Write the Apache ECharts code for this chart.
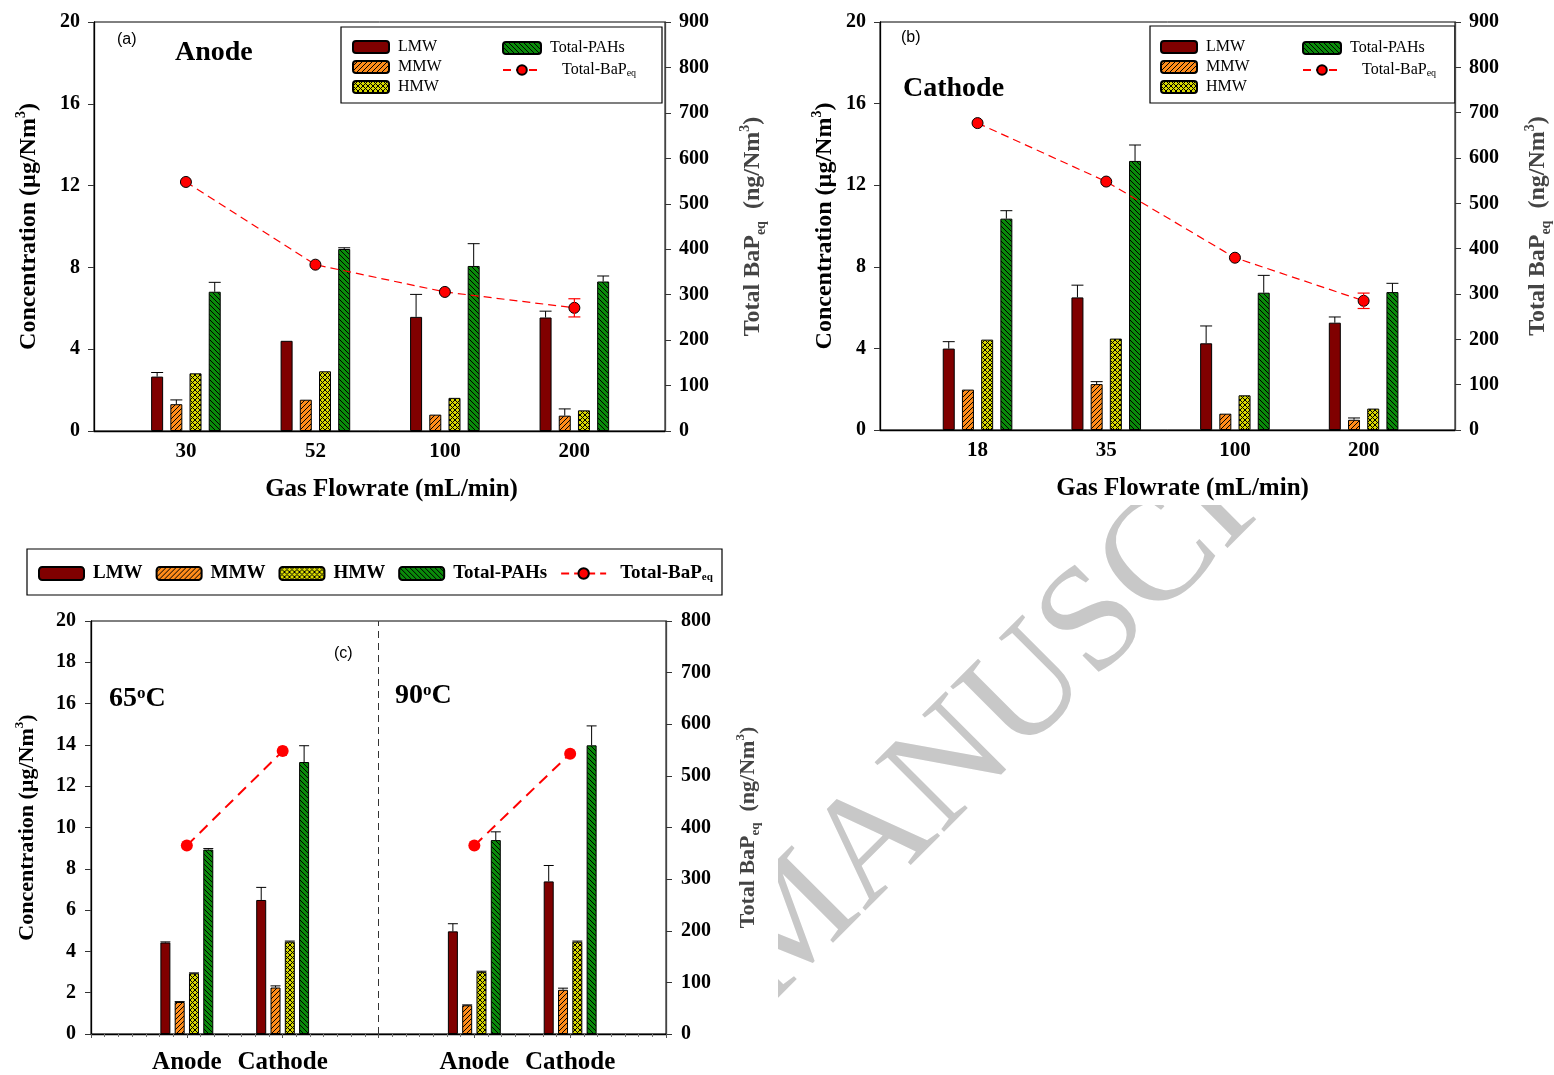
<!DOCTYPE html>
<html><head><meta charset="utf-8">
<script src="https://cdn.jsdelivr.net/npm/echarts@6/dist/echarts.min.js"></script>
<style>html,body{margin:0;padding:0;background:#fff}#c{width:1554px;height:1075px}</style>
</head><body><div id="c"></div>
<script>
// ---------------- DATA ----------------
const flowA = ['30', '52', '100', '200'];
const flowB = ['18', '35', '100', '200'];
const condC = ['Anode', 'Cathode', 'Anode', 'Cathode'];
const tempC = ['65', '90'];

const lmwA = [2.66, 4.41, 5.58, 5.55];   const lmwAErr = [0.20, 0, 1.10, 0.31];
const mmwA = [1.31, 1.53, 0.80, 0.75];   const mmwAErr = [0.21, 0, 0, 0.33];
const hmwA = [2.82, 2.92, 1.62, 1.01];   const hmwAErr = [0, 0, 0, 0];
const totA = [6.81, 8.90, 8.07, 7.31];   const totAErr = [0.46, 0.06, 1.09, 0.27];
const bapA = [548, 366, 306, 271];       const bapAErr = [0, 0, 0, 20];

const lmwB = [3.99, 6.50, 4.25, 5.26];   const lmwBErr = [0.34, 0.60, 0.85, 0.28];
const mmwB = [1.98, 2.25, 0.80, 0.50];   const mmwBErr = [0, 0.12, 0, 0.09];
const hmwB = [4.43, 4.48, 1.70, 1.05];   const hmwBErr = [0, 0, 0, 0];
const totB = [10.36, 13.19, 6.73, 6.76]; const totBErr = [0.39, 0.78, 0.85, 0.43];
const bapB = [677, 548, 380, 285];       const bapBErr = [0, 0, 0, 17];

const lmwC = [4.43, 6.49, 4.97, 7.39];   const lmwCErr = [0.03, 0.61, 0.37, 0.77];
const mmwC = [1.55, 2.25, 1.39, 2.14];   const mmwCErr = [0.02, 0.08, 0.02, 0.08];
const hmwC = [2.94, 4.47, 3.01, 4.47];   const hmwCErr = [0.02, 0.03, 0.03, 0.03];
const totC = [8.93, 13.17, 9.39, 13.98]; const totCErr = [0.05, 0.79, 0.40, 0.94];
const bapC = [365, 548, 365, 543];       const bapCErr = [0, 8, 0, 0];

// ---------------- LAYOUT / STYLE ----------------
const SERIF = '"Liberation Serif","Times New Roman",serif';
const SANS = '"Liberation Sans",Arial,sans-serif';
const posA = [1, 2, 3, 4];
const posB = [1, 2, 3, 4];
const posC = [1, 2, 4, 5];   // group positions on panel (c) value axis
const dividerC = 3;

function pat(bg, kind, size) {
  const c = document.createElement('canvas');
  c.width = c.height = size;
  const g = c.getContext('2d');
  g.fillStyle = bg; g.fillRect(0, 0, size, size);
  g.strokeStyle = '#000'; g.lineWidth = 1;
  const fwd = () => { g.beginPath(); for (let k = -1; k <= 1; k++) { g.moveTo(k * size, size); g.lineTo(k * size + size, 0); } g.stroke(); };
  const back = () => { g.beginPath(); for (let k = -1; k <= 1; k++) { g.moveTo(k * size, 0); g.lineTo(k * size + size, size); } g.stroke(); };
  if (kind === 'fwd') fwd();
  if (kind === 'back') back();
  if (kind === 'cross') { fwd(); back(); }
  return { image: c, repeat: 'repeat' };
}
const FILL = {
  LMW: '#800000',
  MMW: pat('#ff8c1a', 'fwd', 5),
  HMW: pat('#d8d800', 'cross', 5),
  TOT: pat('#0a8a0a', 'back', 5)
};

const richName = (fs) => ({
  n: { fontFamily: SERIF, fontWeight: 'bold', fontSize: fs, lineHeight: fs + 6, verticalAlign: 'middle' },
  sup: { fontFamily: SERIF, fontWeight: 'bold', fontSize: Math.round(fs * 0.6), lineHeight: 12, verticalAlign: 'top' },
  sub: { fontFamily: SERIF, fontWeight: 'bold', fontSize: Math.round(fs * 0.6), lineHeight: 12, verticalAlign: 'bottom' }
});
const concName = '{n|Concentration (µg/Nm}{sup|3}{n|)}';
const bapName = '{n|Total BaP}{sub|eq}{n|  (ng/Nm}{sup|3}{n|)}';

function yAxis(grid, side, max, interval, name, gap, fs, margin) {
  return {
    type: 'value', gridIndex: grid, position: side, min: 0, max: max, interval: interval,
    axisLine: { show: true, lineStyle: { color: side === 'left' ? '#000' : '#444', width: 1.3 } },
    axisTick: { show: true, inside: false, length: 6, lineStyle: { color: '#333' } },
    splitLine: { show: false },
    axisLabel: { fontFamily: SERIF, fontWeight: 'bold', fontSize: 20, color: '#000', margin: margin },
    name: name, nameLocation: 'middle', nameGap: gap,
    nameTextStyle: { rich: richName(fs) }
  };
}
function xAxis(grid, min, max, pos, labels, lfs, margin, name, gap, shift, ticks) {
  return {
    type: 'value', gridIndex: grid, min: min, max: max, interval: ticks ? 1 : null,
    axisLine: { show: true, lineStyle: { color: '#000', width: 1.3 } },
    axisTick: ticks ? { show: true, length: 4, lineStyle: { color: '#555' } } : { show: false },
    minorTick: ticks ? { show: true, splitNumber: 7, length: 3, lineStyle: { color: '#777' } } : { show: false },
    splitLine: { show: false },
    axisLabel: {
      customValues: pos, formatter: v => labels[pos.indexOf(v)] || '',
      fontFamily: SERIF, fontWeight: 'bold', fontSize: lfs, color: '#000', margin: margin
    },
    name: name, nameLocation: 'middle', nameGap: gap,
    nameTextStyle: { fontFamily: SERIF, fontWeight: 'bold', fontSize: 25, color: '#000', padding: [0, 0, 0, shift || 0] }
  };
}

function bar(name, vals, pos, xi, yi, fill, bw, gap) {
  return {
    type: 'bar', name: name, xAxisIndex: xi, yAxisIndex: yi, barWidth: bw, barGap: gap,
    data: vals.map((v, i) => [pos[i], v]),
    itemStyle: { color: fill, borderColor: '#000', borderWidth: 1 }, z: 2
  };
}
function errBars(groups, pos, xi, yi, bw, gapFrac) {
  const data = [];
  groups.forEach((gr, k) => gr[0].forEach((v, i) => data.push([pos[i], v, gr[1][i], k])));
  const step = bw * (1 + gapFrac);
  return {
    type: 'custom', xAxisIndex: xi, yAxisIndex: yi, z: 3, silent: true,
    data: data,
    renderItem: function (params, api) {
      const x = api.value(0), v = api.value(1), e = api.value(2), k = api.value(3);
      if (!(e > 0)) return null;
      const off = (k - 1.5) * step;
      const p0 = api.coord([x, v]), p1 = api.coord([x, v + e]);
      const cx = p0[0] + off;
      return { type: 'group', children: [
        { type: 'line', shape: { x1: cx, y1: p0[1], x2: cx, y2: p1[1] }, style: { stroke: '#000', lineWidth: 1 } },
        { type: 'line', shape: { x1: cx - bw / 2, y1: p1[1], x2: cx + bw / 2, y2: p1[1] }, style: { stroke: '#000', lineWidth: 1 } }
      ]};
    }
  };
}
function bapErr(vals, errs, pos, xi, yi, cap) {
  return {
    type: 'custom', xAxisIndex: xi, yAxisIndex: yi, z: 6, silent: true,
    data: vals.map((v, i) => [pos[i], v, errs[i]]),
    renderItem: function (params, api) {
      const x = api.value(0), v = api.value(1), e = api.value(2);
      if (!(e > 0)) return null;
      const a = api.coord([x, v + e]), b = api.coord([x, v - e]);
      const st = { stroke: '#ff0000', lineWidth: 1.2 };
      return { type: 'group', children: [
        { type: 'line', shape: { x1: a[0], y1: a[1], x2: b[0], y2: b[1] }, style: st },
        { type: 'line', shape: { x1: a[0] - cap / 2, y1: a[1], x2: a[0] + cap / 2, y2: a[1] }, style: st },
        { type: 'line', shape: { x1: b[0] - cap / 2, y1: b[1], x2: b[0] + cap / 2, y2: b[1] }, style: st }
      ]};
    }
  };
}
function bapLine(vals, pos, xi, yi, thick) {
  return {
    type: 'line', name: 'Total-BaPeq', xAxisIndex: xi, yAxisIndex: yi, z: 5,
    data: vals.map((v, i) => [pos[i], v]),
    symbol: 'circle', symbolSize: thick ? 12 : 11,
    itemStyle: thick ? { color: '#ff0000' } : { color: '#ff0000', borderColor: '#000', borderWidth: 1 },
    lineStyle: thick ? { color: '#ff0000', width: 2, type: [11, 7] } : { color: '#ff0000', width: 1.2, type: [8, 5] }
  };
}

const series = [];
// panel (a)
series.push(bar('LMW', lmwA, posA, 0, 0, FILL.LMW, 12, '60%'));
series.push(bar('MMW', mmwA, posA, 0, 0, FILL.MMW, 12, '60%'));
series.push(bar('HMW', hmwA, posA, 0, 0, FILL.HMW, 12, '60%'));
series.push(bar('Total-PAHs', totA, posA, 0, 0, FILL.TOT, 12, '60%'));
series.push(errBars([[lmwA, lmwAErr], [mmwA, mmwAErr], [hmwA, hmwAErr], [totA, totAErr]], posA, 0, 0, 12, 0.6));
series.push(bapLine(bapA, posA, 0, 1, false));
series.push(bapErr(bapA, bapAErr, posA, 0, 1, 12));
// panel (b)
series.push(bar('LMW', lmwB, posB, 1, 2, FILL.LMW, 12, '60%'));
series.push(bar('MMW', mmwB, posB, 1, 2, FILL.MMW, 12, '60%'));
series.push(bar('HMW', hmwB, posB, 1, 2, FILL.HMW, 12, '60%'));
series.push(bar('Total-PAHs', totB, posB, 1, 2, FILL.TOT, 12, '60%'));
series.push(errBars([[lmwB, lmwBErr], [mmwB, mmwBErr], [hmwB, hmwBErr], [totB, totBErr]], posB, 1, 2, 12, 0.6));
series.push(bapLine(bapB, posB, 1, 3, false));
series.push(bapErr(bapB, bapBErr, posB, 1, 3, 12));
// panel (c)
series.push(bar('LMW', lmwC, posC, 2, 4, FILL.LMW, 10, '43%'));
series.push(bar('MMW', mmwC, posC, 2, 4, FILL.MMW, 10, '43%'));
series.push(bar('HMW', hmwC, posC, 2, 4, FILL.HMW, 10, '43%'));
series.push(bar('Total-PAHs', totC, posC, 2, 4, FILL.TOT, 10, '43%'));
series.push(errBars([[lmwC, lmwCErr], [mmwC, mmwCErr], [hmwC, hmwCErr], [totC, totCErr]], posC, 2, 4, 10, 0.43));
tempC.forEach((t, ti) => {
  const idx = [ti * 2, ti * 2 + 1];
  const s = bapLine(idx.map(i => bapC[i]), idx.map(i => posC[i]), 2, 5, true);
  if (ti === 0) {
    s.markLine = { silent: true, symbol: 'none', label: { show: false },
      lineStyle: { type: [7, 5], color: '#333', width: 1 }, data: [{ xAxis: dividerC }] };
  }
  series.push(s);
  series.push(bapErr(idx.map(i => bapC[i]), idx.map(i => bapCErr[i]), idx.map(i => posC[i]), 2, 5, 8));
});

function legend(left, top, orient, names, fs, bold, iw, ih, gap, bapPad) {
  const w = bold ? 'bold' : 'normal';
  return {
    left: left, top: top, orient: orient, data: names, itemWidth: iw, itemHeight: ih, itemGap: gap,
    padding: 0, selectedMode: false,
    formatter: n => n === 'Total-BaPeq' ? '{tb|Total-BaP}{s|eq}' : '{t|' + n + '}',
    textStyle: {
      padding: [0, 0, 0, 4],
      rich: {
        t: { fontFamily: SERIF, fontSize: fs, fontWeight: w, color: '#000', lineHeight: fs },
        tb: { fontFamily: SERIF, fontSize: fs, fontWeight: w, color: '#000', lineHeight: fs, padding: [0, 0, 0, bapPad] },
        s: { fontFamily: SERIF, fontSize: Math.round(fs * 0.6), fontWeight: w, color: '#000', verticalAlign: 'bottom', lineHeight: fs, padding: [8, 0, 0, 0] }
      }
    }
  };
}

const option = {
  backgroundColor: '#fff',
  animation: false,
  grid: [
    { left: 94, top: 22, width: 571, height: 409, show: true, borderColor: '#000', borderWidth: 1 },
    { left: 880, top: 22, width: 578, height: 408, show: true, borderColor: '#000', borderWidth: 1 },
    { left: 91, top: 621, width: 575, height: 413, show: true, borderColor: '#000', borderWidth: 1 }
  ],
  xAxis: [
    xAxis(0, 0.29, 4.70, posA, flowA, 21, 10, 'Gas Flowrate (mL/min)', 46, 24, false),
    xAxis(1, 0.242, 4.71, posB, flowB, 21, 10, 'Gas Flowrate (mL/min)', 46, 30, false),
    xAxis(2, 0, 6, posC, condC, 25, 16, '', 0, 0, true)
  ],
  yAxis: [
    yAxis(0, 'left', 20, 4, concName, 50, 24, 14),
    yAxis(0, 'right', 900, 100, bapName, 73, 24, 14),
    yAxis(1, 'left', 20, 4, concName, 40, 24, 14),
    yAxis(1, 'right', 900, 100, bapName, 68, 24, 14),
    yAxis(2, 'left', 20, 2, concName, 50, 22, 15),
    yAxis(2, 'right', 800, 100, bapName, 68, 22, 15)
  ],
  legend: [
    legend(352, 39, 'vertical', ['LMW', 'MMW', 'HMW'], 16, false, 36, 12, 4, 0),
    legend(502, 40, 'vertical', ['Total-PAHs', 'Total-BaPeq'], 16, false, 38, 12, 4, 12),
    legend(1160, 39, 'vertical', ['LMW', 'MMW', 'HMW'], 16, false, 36, 12, 4, 0),
    legend(1302, 40, 'vertical', ['Total-PAHs', 'Total-BaPeq'], 16, false, 38, 12, 4, 12),
    legend(38, 564, 'horizontal', ['LMW', 'MMW', 'HMW', 'Total-PAHs', 'Total-BaPeq'], 19, true, 45, 13, 13, 5)
  ],
  series: series,
  graphic: [
    // watermark (clipped by white masks lying under chart content)
    { type: 'text', x: 1084, y: 636, rotation: Math.PI / 4, z: -20, silent: true,
      style: { text: 'MANUSCRIPT', font: '150px ' + SERIF, fill: '#c8c8c8', textAlign: 'center', textVerticalAlign: 'middle' } },
    { type: 'rect', z: -10, silent: true, shape: { x: 0, y: 505, width: 778, height: 570 }, style: { fill: '#fff' } },
    { type: 'rect', z: -10, silent: true, shape: { x: 0, y: 0, width: 1554, height: 505 }, style: { fill: '#fff' } },
    // legend boxes
    { type: 'rect', shape: { x: 341, y: 27, width: 321, height: 76 }, style: { fill: 'none', stroke: '#000', lineWidth: 1.2 } },
    { type: 'rect', shape: { x: 1150, y: 26, width: 305, height: 77 }, style: { fill: 'none', stroke: '#000', lineWidth: 1.2 } },
    { type: 'rect', shape: { x: 27, y: 549, width: 695, height: 46 }, style: { fill: 'none', stroke: '#000', lineWidth: 1.2 } },
    // panel annotations
    { type: 'text', left: 117, top: 32, style: { text: '(a)', font: '16px ' + SANS, fill: '#000' } },
    { type: 'text', left: 175, top: 39, style: { text: 'Anode', font: 'bold 28px ' + SERIF, fill: '#000' } },
    { type: 'text', left: 901, top: 30, style: { text: '(b)', font: '16px ' + SANS, fill: '#000' } },
    { type: 'text', left: 903, top: 75, style: { text: 'Cathode', font: 'bold 28px ' + SERIF, fill: '#000' } },
    { type: 'text', left: 334, top: 646, style: { text: '(c)', font: '16px ' + SANS, fill: '#000' } },
    { type: 'text', left: 109, top: 685, style: { text: '{n|' + tempC[0] + '}{s|o}{n|C}',
      rich: { n: { font: 'bold 28px ' + SERIF, fill: '#000', verticalAlign: 'bottom' }, s: { font: 'bold 17px ' + SERIF, fill: '#000', verticalAlign: 'top' } } } },
    { type: 'text', left: 395, top: 682, style: { text: '{n|' + tempC[1] + '}{s|o}{n|C}',
      rich: { n: { font: 'bold 28px ' + SERIF, fill: '#000', verticalAlign: 'bottom' }, s: { font: 'bold 17px ' + SERIF, fill: '#000', verticalAlign: 'top' } } } }
  ]
};

const chart = echarts.init(document.getElementById('c'), null, { renderer: 'canvas' });
chart.setOption(option);
</script>
</body></html>
